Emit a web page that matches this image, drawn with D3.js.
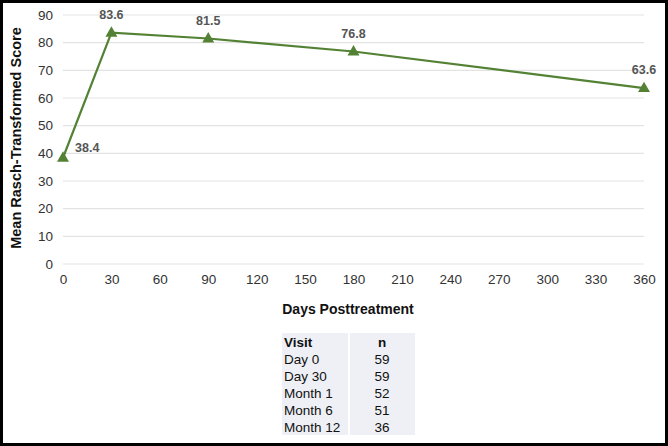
<!DOCTYPE html>
<html><head><meta charset="utf-8">
<script src="https://cdn.jsdelivr.net/npm/d3@7"></script>
<style>body{margin:0;background:#fff;}svg{display:block;}</style>
</head><body>
<svg id="c" width="668" height="446"></svg>
<script>
const days = [0, 30, 90, 180, 360];
const scores = [38.4, 83.6, 81.5, 76.8, 63.6];
const xTicks = [0,30,60,90,120,150,180,210,240,270,300,330,360];
const yTicks = [0,10,20,30,40,50,60,70,80,90];
const visits = ["Day 0","Day 30","Month 1","Month 6","Month 12"];
const nValues = [59,59,52,51,36];

const svg = d3.select("#c");
const font = "Liberation Sans, Arial, sans-serif";
svg.append("rect").attr("x",1.5).attr("y",1.5).attr("width",665).attr("height",443)
  .attr("fill","#fff").attr("stroke","#000").attr("stroke-width",3);

const x = d3.scaleLinear().domain([0,360]).range([63,644]);
const y = d3.scaleLinear().domain([0,90]).range([264,15]);

const g = svg.append("g");
g.selectAll("line.grid").data(yTicks).join("line").attr("class","grid")
  .attr("x1",x(0)).attr("x2",x(360)).attr("y1",d=>y(d)).attr("y2",d=>y(d))
  .attr("stroke","#e3e3e3").attr("stroke-width",1.2);

const xa = svg.append("g").attr("transform",`translate(0,${y(0)})`)
  .call(d3.axisBottom(x).tickValues(xTicks).tickSize(0).tickPadding(10));
xa.select(".domain").remove();
xa.selectAll("text").attr("font-family",font).attr("font-size",13.5).attr("fill","#333");

const ya = svg.append("g").attr("transform",`translate(${x(0)},0)`)
  .call(d3.axisLeft(y).tickValues(yTicks).tickSize(0).tickPadding(10));
ya.select(".domain").remove();
ya.selectAll("text").attr("font-family",font).attr("font-size",13.5).attr("fill","#333");

svg.append("text").attr("transform","translate(20.5,138) rotate(-90)").attr("text-anchor","middle")
  .attr("font-family",font).attr("font-size",14.5).attr("font-weight","bold").attr("fill","#111")
  .text("Mean Rasch-Transformed Score");
svg.append("text").attr("x",348).attr("y",314).attr("text-anchor","middle")
  .attr("font-family",font).attr("font-size",14).attr("font-weight","bold").attr("fill","#111")
  .text("Days Posttreatment");

const pts = days.map((d,i)=>[d,scores[i]]);
svg.append("path").datum(pts).attr("fill","none").attr("stroke","#548235").attr("stroke-width",2.2)
  .attr("d",d3.line().x(d=>x(d[0])).y(d=>y(d[1])));
const tri = d3.symbol().type(d3.symbolTriangle).size(62);
svg.selectAll("path.m").data(pts).join("path").attr("class","m")
  .attr("transform",d=>`translate(${x(d[0])},${y(d[1])+0.5})`).attr("d",tri).attr("fill","#548235");

svg.selectAll("text.lbl").data(pts).join("text").attr("class","lbl")
  .attr("x",(d,i)=>i===0? x(d[0])+12 : x(d[0]))
  .attr("y",(d,i)=>i===0? y(d[1])-6 : y(d[1])-14)
  .attr("text-anchor",(d,i)=>i===0?"start":"middle")
  .attr("font-family",font).attr("font-size",12.5).attr("font-weight","bold").attr("fill","#555")
  .text(d=>d[1].toFixed(1));

// table
const tx0 = 282, tx1 = 349, tx2 = 415, ty0 = 333, rh = 17;
const rows = [["Visit","n"]].concat(visits.map((v,i)=>[v,String(nValues[i])]));
const tg = svg.append("g");
rows.forEach((r,i)=>{
  tg.append("rect").attr("x",tx0).attr("y",ty0+i*rh).attr("width",tx1-tx0-1).attr("height",rh)
    .attr("fill","#eef0f5");
  tg.append("rect").attr("x",tx1+1).attr("y",ty0+i*rh).attr("width",tx2-tx1-1).attr("height",rh)
    .attr("fill","#eef0f5");
  tg.append("text").attr("x",tx0+2).attr("y",ty0+i*rh+13.5).attr("font-family",font).attr("font-size",13.5)
    .attr("font-weight",i===0?"bold":"normal").attr("fill","#111").text(r[0]);
  tg.append("text").attr("x",(tx1+tx2)/2).attr("y",ty0+i*rh+13.5).attr("text-anchor","middle").attr("font-family",font).attr("font-size",13.5)
    .attr("font-weight",i===0?"bold":"normal").attr("fill","#111").text(r[1]);
});
</script>
</body></html>
